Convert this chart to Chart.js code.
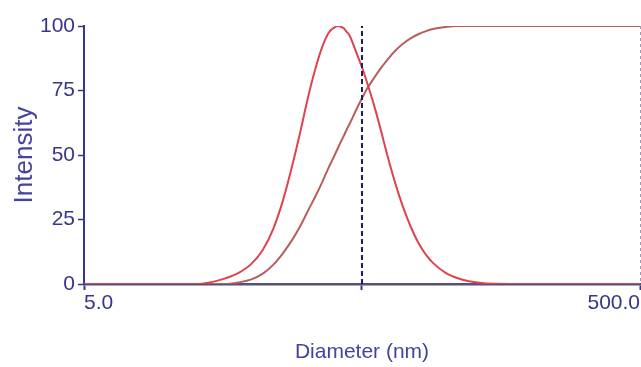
<!DOCTYPE html>
<html>
<head>
<meta charset="utf-8">
<title>Size distribution</title>
<script src="https://cdn.jsdelivr.net/npm/chart.js@4.4.1/dist/chart.umd.min.js"></script>
<style>
    html, body { margin: 0; padding: 0; background: #ffffff; }
    #wrap { width: 641px; height: 367px; position: relative; }
</style>
</head>
<body>
<div id="wrap"><canvas id="sizeChart"></canvas></div>
<script>
/*  Particle size distribution — intensity vs diameter  */

/* ====== DATA ====== */
var diameters = [5, 10, 12, 13, 14, 15, 16, 17, 18, 20, 22, 24, 26, 28, 30, 32, 34, 36, 38, 39, 40,
    41, 42, 43, 44, 45, 48, 50, 52, 55, 58, 62, 66, 70, 75, 80, 85, 90, 100, 110, 120, 130, 150, 200, 500];

// intensity distribution (%)
var intensity = [0, 0, 0, 0, 0.5, 1.2, 2.1, 3.1, 4.3, 7.8, 13.3, 21.5, 32.5, 45.5, 59, 72.5, 83.5, 92, 97.5, 98.8, 99.6,
    100, 99.7, 99.1, 97.8, 96.5, 89, 84, 78.5, 70, 61, 49, 38.7, 30.3, 22, 15.7, 11.3, 8.2, 4.3, 2.3, 1.2, 0.6, 0.1, 0, 0];

// cumulative intensity (%)
var cumulative = [0, 0, 0, 0, 0, 0, 0, 0.2, 0.6, 1.8, 4, 7.5, 12, 17, 22.5, 28.5, 34, 39.6, 45.3, 47.8, 50.3,
    52.8, 55.2, 57.4, 59.8, 61.8, 68.2, 72, 75.5, 79.5, 83.2, 87.2, 90.5, 93, 95.3, 96.9, 98, 98.8, 99.6, 100, 100, 100, 100, 100, 100];

// cursor line at the mean diameter
var markerX = [50, 50];
var markerY = [0, 100];

var xTicks = [5, 50, 500];
var yTicks = [0, 25, 50, 75, 100];

/* ====== STYLE ====== */
var NAVY = "#36368a";
var TITLE = "#4444a0";
var SANS = "'Liberation Sans', Arial, sans-serif";

function toPoints(xs, ys) {
    return xs.map(function (x, i) { return { x: x, y: ys[i] }; });
}

/* ====== CHART ====== */
var ctx = document.getElementById("sizeChart").getContext("2d");

new Chart(ctx, {
    type: "line",
    data: {
        datasets: [
            {
                label: "Cursor",
                data: toPoints(markerX, markerY),
                borderColor: "#1e1e5c",
                borderDash: [5, 3],
                borderWidth: 2,
                pointRadius: 0,
                fill: false
            },
            {
                label: "Intensity",
                data: toPoints(diameters, intensity),
                borderColor: "#e0434d",
                borderWidth: 2,
                pointRadius: 0,
                cubicInterpolationMode: "monotone",
                fill: false
            },
            {
                label: "Cumulative",
                data: toPoints(diameters, cumulative),
                borderColor: "#b65f5c",
                borderWidth: 2,
                pointRadius: 0,
                cubicInterpolationMode: "monotone",
                fill: false
            }
        ]
    },
    options: {
        responsive: true,
        maintainAspectRatio: false,
        animation: false,
        layout: { padding: { left: 0, right: 1, top: 26, bottom: 0 } },
        plugins: {
            legend: { display: false },
            tooltip: { enabled: false }
        },
        scales: {
            x: {
                type: "logarithmic",
                min: 5,
                max: 500,
                afterBuildTicks: function (scale) {
                    scale.ticks = xTicks.map(function (v) { return { value: v }; });
                },
                afterFit: function (scale) { scale.height = 83; },
                ticks: {
                    autoSkip: false,
                    maxRotation: 0,
                    align: "inner",
                    padding: 1,
                    color: NAVY,
                    font: { family: SANS, size: 21 },
                    callback: function (v) { return v === 50 ? "" : Number(v).toFixed(1); }
                },
                grid: {
                    drawOnChartArea: true,
                    drawTicks: true,
                    tickLength: 6,
                    lineWidth: 1,
                    color: function (c) { return c.tick && c.tick.value === 500 ? "#9a9abb" : "rgba(0,0,0,0)"; },
                    tickColor: NAVY,
                    tickWidth: 2
                },
                border: { display: true, color: "#52527c", width: 2.5, dash: [3, 3] },
                title: {
                    display: true,
                    text: "Diameter (nm)",
                    color: TITLE,
                    font: { family: SANS, size: 21 },
                    padding: { top: 0, bottom: 2 }
                }
            },
            y: {
                min: 0,
                max: 100,
                afterBuildTicks: function (scale) {
                    scale.ticks = yTicks.map(function (v) { return { value: v }; });
                },
                afterFit: function (scale) { scale.width = 84; },
                ticks: {
                    padding: 3,
                    color: NAVY,
                    font: { family: SANS, size: 21 }
                },
                grid: {
                    drawOnChartArea: false,
                    drawTicks: true,
                    tickLength: 6,
                    tickColor: NAVY,
                    tickWidth: 1.5
                },
                border: { display: true, color: NAVY, width: 2 },
                title: {
                    display: true,
                    text: "Intensity",
                    color: TITLE,
                    font: { family: SANS, size: 26 },
                    padding: { top: 9, bottom: 0 }
                }
            }
        }
    }
});
</script>
</body>
</html>
